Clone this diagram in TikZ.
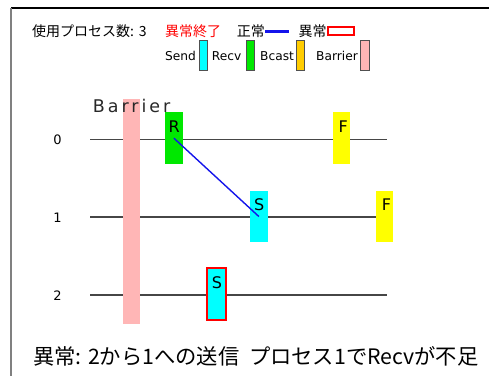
\documentclass[tikz,border=0pt]{standalone}
\usepackage{fontspec}
\setmainfont{Noto Sans CJK JP}
\newfontfamily\jpfont{Noto Sans CJK JP}
\newfontfamily\latfont{DejaVu Sans}
\newfontfamily\spacedfont[LetterSpace=17]{DejaVu Sans}
\definecolor{barpink}{RGB}{255,182,182}
\definecolor{recvgreen}{RGB}{0,232,0}
\definecolor{sendcyan}{RGB}{0,255,255}
\definecolor{finyellow}{RGB}{255,255,0}
\definecolor{bcastorange}{RGB}{255,204,0}
\definecolor{errred}{RGB}{255,0,0}
\definecolor{okblue}{RGB}{20,20,235}
\definecolor{procline}{RGB}{70,70,70}
\definecolor{legborder}{RGB}{80,80,80}
\tikzset{
  opbox/.style={rectangle, inner sep=0pt, outer sep=0pt, draw=none},
  legbox/.style={rectangle, inner sep=0pt, outer sep=0pt, draw=legborder, line width=0.9pt, minimum width=8pt, minimum height=30pt},
  jptext/.style={inner sep=0pt, anchor=base west, font=\jpfont\fontsize{14}{14}\selectfont},
  lattext/.style={inner sep=0pt, anchor=base west, font=\latfont\fontsize{12.2}{12.2}\selectfont},
  optext/.style={inner sep=0pt, anchor=base west, font=\latfont\fontsize{16}{16}\selectfont},
  pline/.style={draw=procline, line width=1.2pt},
}
\begin{document}
\begin{tikzpicture}[x=1pt,y=-1pt]
\useasboundingbox (0,0) rectangle (489,376);
% frame
\coordinate (fTL) at (11,8);
\coordinate (fTR) at (489,8);
\coordinate (fBL) at (11,376);
\draw[line width=1.5pt, black] (fTR) -- (fTL);
\draw[line width=1.5pt, gray] (fTL) -- (fBL);

% legend row 1
\node[jptext] (nproc) at (32,36.5) {使用プロセス数:\,\,3};
\node[jptext, text=errred] (abend) at (165,36.5) {異常終了};
\node[jptext] (normal) at (236.7,36.5) {正常};
\coordinate (blueR) at (289,31.3);
\draw[okblue, line width=2.5pt] (normal.east |- blueR) -- (blueR);
\node[jptext] (abnormal) at (298.3,36.5) {異常};
\node[rectangle, inner sep=0pt, draw=errred, fill=white, line width=2pt, minimum width=25.7pt, minimum height=8pt] (redleg) at (341.15,31.3) {};

% legend row 2
\node[lattext] (tsend) at (165,60.4) {Send};
\node[legbox, fill=sendcyan] (lsend) at (203.3,55.7) {};
\node[lattext] (trecv) at (211.7,60.4) {Recv};
\node[legbox, fill=recvgreen] (lrecv) at (250.5,55.7) {};
\node[lattext] (tbcast) at (260,60.4) {Bcast};
\node[legbox, fill=bcastorange] (lbcast) at (300.35,55.7) {};
\node[lattext] (tbarrier) at (316,60.4) {Barrier};
\node[legbox, fill=barpink, minimum width=9.3pt] (lbarrier) at (364.65,55.7) {};

% process lines
\coordinate (p0a) at (90,139.3); \coordinate (p0b) at (386.7,139.3);
\coordinate (p1a) at (90,217);   \coordinate (p1b) at (386.7,217);
\coordinate (p2a) at (90,295);   \coordinate (p2b) at (386.7,295);
\draw[pline] (p0a) -- (p0b);
\draw[pline] (p1a) -- (p1b);
\draw[pline] (p2a) -- (p2b);
\node[inner sep=0pt, font=\latfont\fontsize{13}{13}\selectfont] (rank0) at (57.5,140) {0};
\node[inner sep=0pt, font=\latfont\fontsize{13}{13}\selectfont] (rank1) at (57.5,218) {1};
\node[inner sep=0pt, font=\latfont\fontsize{13}{13}\selectfont] (rank2) at (57.5,296) {2};

% barrier
\node[opbox, fill=barpink, minimum width=17.3pt, minimum height=225pt] (barrier) at (131.35,211.8) {};
\node[inner sep=0pt, anchor=base west, font=\spacedfont\fontsize{17.5}{17.5}\selectfont, text={rgb,255:red,40;green,40;blue,40}] (barriertxt) at (92.7,112.7) {Barrier};

% operation boxes
\node[opbox, fill=recvgreen, minimum width=17.7pt, minimum height=51.7pt] (R0) at (173.85,138.15) {};
\node[opbox, fill=finyellow, minimum width=16.7pt, minimum height=51.7pt] (F0) at (341.65,138.15) {};
\node[opbox, fill=sendcyan, minimum width=17.7pt, minimum height=51.6pt] (S1) at (258.85,216.5) {};
\node[opbox, fill=finyellow, minimum width=17.3pt, minimum height=51.6pt] (F1) at (384.65,216.5) {};
\node[opbox, fill=sendcyan, draw=errred, line width=2pt, minimum width=18.7pt, minimum height=51.7pt] (S2) at (216.35,294.15) {};

% message
\draw[okblue, line width=1.4pt] (R0.center) -- (S1.center);

% operation letters
\node[optext] (R0t) at (168.5,132.7) {R};
\node[optext] (F0t) at (338.3,132.3) {F};
\node[optext] (S1t) at (254,210.7) {S};
\node[optext] (F1t) at (381.7,210.7) {F};
\node[optext] (S2t) at (211.7,288.3) {S};

% bottom message
\node[inner sep=0pt, anchor=base west, font=\jpfont\fontsize{21.3}{21.3}\selectfont] (msg) at (33,364) {異常: 2から1への送信\ \ プロセス1でRecvが不足};
\end{tikzpicture}
\end{document}
